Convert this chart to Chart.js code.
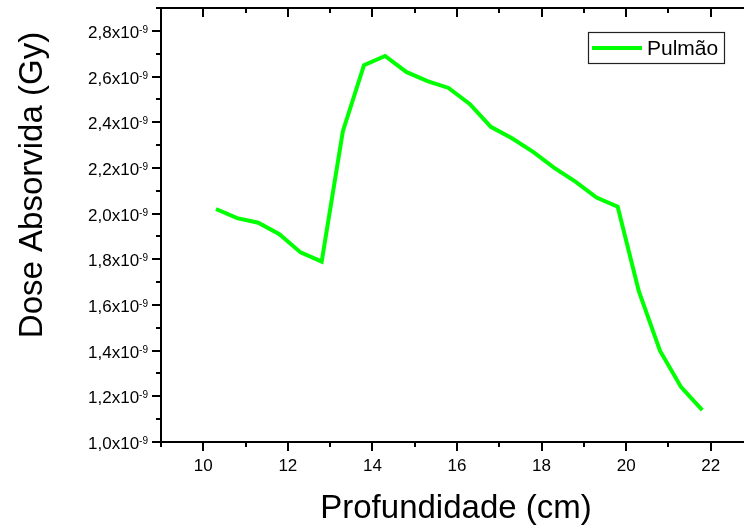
<!DOCTYPE html>
<html>
<head>
<meta charset="utf-8">
<script src="https://cdn.jsdelivr.net/npm/chart.js@4.4.0/dist/chart.umd.min.js"></script>
<style>
    html, body { margin: 0; padding: 0; background: #fff; overflow: hidden; }
    #contenedor { width: 770px; height: 526px; }
</style>
</head>
<body>
<div id="contenedor"><canvas id="chartDose"></canvas></div>
<script>
// profundidade (cm) e dose absorvida (Gy)
const profundidade = [10.3, 10.8, 11.3, 11.8, 12.3, 12.8, 13.3, 13.8, 14.3, 14.8, 15.3, 15.8,
    16.3, 16.8, 17.3, 17.8, 18.3, 18.8, 19.3, 19.8, 20.3, 20.8, 21.3, 21.8];
const dosePulmao = [2.02e-9, 1.98e-9, 1.96e-9, 1.91e-9, 1.83e-9, 1.79e-9, 2.36e-9, 2.65e-9,
    2.69e-9, 2.62e-9, 2.58e-9, 2.55e-9, 2.48e-9, 2.38e-9, 2.33e-9, 2.27e-9, 2.20e-9, 2.14e-9,
    2.07e-9, 2.03e-9, 1.66e-9, 1.40e-9, 1.24e-9, 1.14e-9];
const nomeSerie = "Pulmão";

const ticksX = [10, 12, 14, 16, 18, 20, 22];
const ticksXMenores = [9, 11, 13, 15, 17, 19, 21, 23];
const ticksY = [1.0e-9, 1.2e-9, 1.4e-9, 1.6e-9, 1.8e-9, 2.0e-9, 2.2e-9, 2.4e-9, 2.6e-9, 2.8e-9];
const ticksYMenores = [1.1e-9, 1.3e-9, 1.5e-9, 1.7e-9, 1.9e-9, 2.1e-9, 2.3e-9, 2.5e-9, 2.7e-9, 2.9e-9];

const tituloX = "Profundidade (cm)";
const tituloY = "Dose Absorvida (Gy)";
const FUENTE = "'Liberation Sans', Arial, sans-serif";

function linea(ctx, x1, y1, x2, y2) {
    ctx.beginPath();
    ctx.moveTo(x1, y1);
    ctx.lineTo(x2, y2);
    ctx.stroke();
}

function etiquetaY(v) {
    return (v * 1e9).toFixed(1).replace(".", ",") + "x10";
}

const ejesOrigin = {
    id: "ejesOrigin",
    afterDraw(chart) {
        const { ctx, chartArea: a, scales: { x, y } } = chart;
        ctx.save();
        ctx.strokeStyle = "#000";
        ctx.fillStyle = "#000";
        ctx.lineWidth = 2;
        ctx.strokeRect(a.left, a.top, a.right - a.left, a.bottom - a.top);

        // ticks eje x: abajo hacia afuera, arriba hacia adentro
        ticksX.concat(ticksXMenores).forEach(v => {
            const px = Math.round(x.getPixelForValue(v));
            const largo = ticksX.includes(v) ? 9 : 5;
            linea(ctx, px, a.bottom, px, a.bottom + largo);
            linea(ctx, px, a.top, px, a.top + largo);
        });

        // ticks eje y: izquierda hacia afuera, derecha hacia adentro
        ticksY.concat(ticksYMenores).forEach((v, i) => {
            const py = Math.round(y.getPixelForValue(v));
            const largo = i < ticksY.length ? 9 : 5;
            linea(ctx, a.left - largo, py, a.left, py);
            linea(ctx, a.right - largo, py, a.right, py);
        });

        // etiquetas eje x
        ctx.font = "17px " + FUENTE;
        ctx.textAlign = "center";
        ctx.textBaseline = "alphabetic";
        ticksX.forEach(v => {
            ctx.fillText(String(v), x.getPixelForValue(v), a.bottom + 29);
        });

        // etiquetas eje y con exponente
        ticksY.forEach(v => {
            const py = y.getPixelForValue(v);
            ctx.font = "10px " + FUENTE;
            const anchoSup = ctx.measureText("-9").width;
            const derecha = a.left - 13;
            ctx.textAlign = "left";
            ctx.fillText("-9", derecha - anchoSup, py + 2);
            ctx.font = "17px " + FUENTE;
            ctx.textAlign = "right";
            ctx.fillText(etiquetaY(v), derecha - anchoSup, py + 7);
        });

        // titulos
        ctx.font = "33px " + FUENTE;
        ctx.textAlign = "center";
        ctx.fillText(tituloX, (a.left + a.right) / 2 - 1, 518);
        ctx.save();
        ctx.translate(42, 185);
        ctx.rotate(-Math.PI / 2);
        ctx.fillText(tituloY, 0, 0);
        ctx.restore();

        // leyenda
        ctx.lineWidth = 1.2;
        ctx.strokeStyle = "#222";
        ctx.strokeRect(588.5, 32.5, 136, 31);
        ctx.strokeStyle = chart.data.datasets[0].borderColor;
        ctx.lineWidth = 4;
        linea(ctx, 592, 48, 642, 48);
        ctx.font = "21px " + FUENTE;
        ctx.textAlign = "left";
        ctx.fillText(nomeSerie, 647, 55);

        ctx.restore();
    }
};

function crearChartDose() {
    const ctx = document.getElementById("chartDose");

    return new Chart(ctx, {
        type: "line",
        data: {
            datasets: [{
                label: nomeSerie,
                data: profundidade.map((p, i) => ({ x: p, y: dosePulmao[i] })),
                borderColor: "#00ff00",
                borderWidth: 4,
                pointRadius: 0,
                tension: 0,
                fill: false
            }]
        },
        options: {
            responsive: true,
            maintainAspectRatio: false,
            animation: false,
            layout: { padding: { left: 161, top: 8, right: 17, bottom: 84 } },
            plugins: {
                legend: { display: false },
                tooltip: { enabled: false }
            },
            scales: {
                x: { type: "linear", min: 9, max: 23, display: false },
                y: { type: "linear", min: 1.0e-9, max: 2.9e-9, display: false }
            }
        },
        plugins: [ejesOrigin]
    });
}

crearChartDose();
</script>
</body>
</html>
